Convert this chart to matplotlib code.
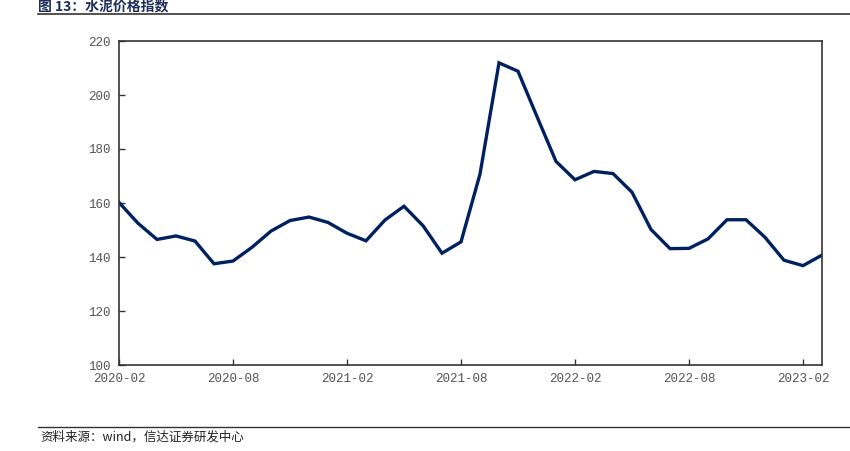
import numpy as np
import pandas as pd
import matplotlib
matplotlib.use("Agg")
from matplotlib import pyplot as plt

plt.rcParams['font.family'] = ['Noto Sans CJK SC', 'DejaVu Sans']

# monthly cement price index, 2020-02 .. 2023-03
months = pd.period_range("2020-02", "2023-03", freq="M").strftime("%Y-%m").tolist()
values = [160.2, 152.5, 146.5, 147.8, 145.9, 137.5, 138.5, 143.6, 149.6, 153.5,
          154.8, 152.8, 148.8, 146.0, 153.7, 158.8, 151.6, 141.4, 145.6, 170.7,
          211.9, 208.8, 192.0, 175.4, 168.6, 171.7, 170.9, 164.0, 150.2, 143.1,
          143.2, 146.7, 153.8, 153.8, 147.3, 138.8, 136.8, 140.7]
tick_labels = ["2020-02", "2020-08", "2021-02", "2021-08", "2022-02", "2022-08", "2023-02"]
y_ticks = [100, 120, 140, 160, 180, 200, 220]

title = "图 13：水泥价格指数"
source = "资料来源：wind，信达证券研发中心"

fig = plt.figure(figsize=(8.5, 4.51), dpi=100)
ax = fig.add_axes([119 / 850, 1 - 365 / 451, 703 / 850, 324 / 451])

x = np.arange(len(months))
ax.plot(x, values, color="#002060", linewidth=2.4, solid_joinstyle="miter")

ax.set_xlim(0, len(months) - 1)
ax.set_ylim(100, 220)
ax.set_yticks(y_ticks)
ax.set_yticklabels([str(v) for v in y_ticks], family="Liberation Mono", fontsize=9, color="#555555")
ax.set_xticks([months.index(t) for t in tick_labels])
ax.set_xticklabels(tick_labels, family="Liberation Mono", fontsize=9, color="#555555")
ax.tick_params(direction="in", length=4, width=1, color="#333333", pad=6)
for s in ax.spines.values():
    s.set_color("#333333")
    s.set_linewidth(1.2)

# header / footer
fig.text(38 / 850, 1 - 10 / 451, title, fontsize=10, fontweight="bold", color="#1f2d5a", va="baseline")
fig.add_artist(plt.Line2D([38 / 850, 1.0], [1 - 14 / 451, 1 - 14 / 451], color="#333333", linewidth=1.2))
fig.add_artist(plt.Line2D([38 / 850, 1.0], [1 - 427 / 451, 1 - 427 / 451], color="#333333", linewidth=1.0))
fig.text(40 / 850, 1 - 437 / 451, source, fontsize=9, style="italic", color="#222222", va="center")

fig.savefig("out.png", dpi=100)
